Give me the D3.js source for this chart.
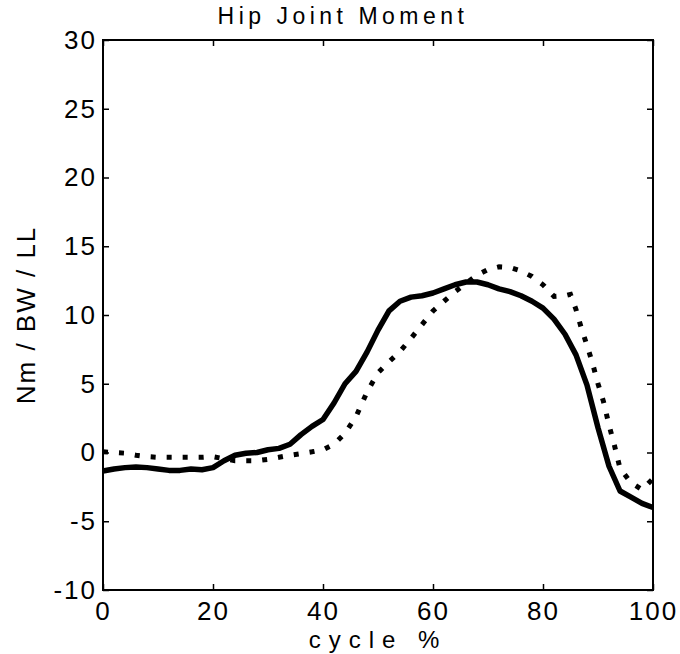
<!DOCTYPE html>
<html><head><meta charset="utf-8">
<script src="https://cdn.jsdelivr.net/npm/d3@7"></script>
<style>body{margin:0;background:#fff}</style>
</head><body>
<svg id="c" width="680" height="654"></svg>
<script>
const title = "Hip Joint Moment";
const xLabel = "cycle %";
const yLabel = "Nm / BW / LL";
const xTicks = [0, 20, 40, 60, 80, 100];
const yTicks = [-10, -5, 0, 5, 10, 15, 20, 25, 30];

const solidX = [0,2,4,6,8,10,12,14,16,18,20,22,24,26,28,30,32,34,36,38,40,42,44,46,48,50,52,54,56,58,60,62,64,66,68,70,72,74,76,78,80,82,84,86,88,90,92,94,96,98,100];
const solidY = [-1.35,-1.2,-1.1,-1.05,-1.1,-1.2,-1.3,-1.3,-1.2,-1.25,-1.1,-0.6,-0.2,-0.05,0.0,0.2,0.3,0.6,1.3,1.9,2.4,3.6,5.0,5.9,7.3,8.9,10.3,11.0,11.3,11.4,11.6,11.9,12.2,12.4,12.4,12.2,11.9,11.7,11.4,11.0,10.5,9.7,8.6,7.1,4.9,1.8,-1.0,-2.8,-3.25,-3.7,-4.0];

const dotX = [0,2,4,6,8,10,12,14,16,18,20,22,24,26,28,30,32,34,36,38,40,42,44,46,48,50,52,54,56,58,60,62,64,66,68,70,72,74,76,78,80,82,84,85,86,87,88,89,90,91,92,93,94,96,98,100];
const dotY = [0.05,0.0,-0.05,-0.2,-0.3,-0.35,-0.35,-0.35,-0.35,-0.35,-0.3,-0.45,-0.6,-0.6,-0.6,-0.5,-0.35,-0.2,-0.08,0.05,0.2,0.6,1.4,2.6,4.4,5.8,6.6,7.35,8.3,9.3,10.3,11.0,11.7,12.3,12.9,13.3,13.5,13.45,13.2,12.8,12.2,11.35,11.4,11.5,10.4,9.0,7.8,6.5,5.0,3.7,2.0,0.5,-1.15,-2.2,-2.7,-1.9];

const svg = d3.select("#c");
const L = 103, R = 653, T = 40, B = 590;
const x = d3.scaleLinear().domain([0,100]).range([L,R]);
const y = d3.scaleLinear().domain([-10,30]).range([B,T]);
const font = "'Liberation Sans', Arial, sans-serif";

const line = d3.line().x(d=>x(d[0])).y(d=>y(d[1]));

svg.append("path").datum(solidX.map((v,i)=>[v,solidY[i]]))
  .attr("d",line).attr("fill","none").attr("stroke","#000")
  .attr("stroke-width",5.5).attr("stroke-linejoin","round");
svg.append("path").datum(dotX.map((v,i)=>[v,dotY[i]]))
  .attr("d",line).attr("fill","none").attr("stroke","#000")
  .attr("stroke-width",5).attr("stroke-dasharray","5 11").attr("stroke-linecap","butt");

// axes with inward ticks
const tl = 6;
const fmt = d => String(d);
const gB = svg.append("g").attr("transform",`translate(0,${B})`)
  .call(d3.axisBottom(x).tickValues(xTicks).tickSize(-tl).tickPadding(12).tickFormat(fmt));
const gT = svg.append("g").attr("transform",`translate(0,${T})`)
  .call(d3.axisTop(x).tickValues(xTicks).tickSize(-tl).tickFormat(""));
const gL = svg.append("g").attr("transform",`translate(${L},0)`)
  .call(d3.axisLeft(y).tickValues(yTicks).tickSize(-tl).tickPadding(6).tickFormat(fmt));
const gR = svg.append("g").attr("transform",`translate(${R},0)`)
  .call(d3.axisRight(y).tickValues(yTicks).tickSize(-tl).tickFormat(""));
[gB,gT,gL,gR].forEach(g=>{
  g.select(".domain").remove();
  g.selectAll(".tick line").attr("stroke","#000").attr("stroke-width",1.5);
  g.selectAll("text").attr("fill","#000").style("font-family",font).style("font-size","26px");
});
gB.selectAll("text").attr("dy","0.71em").style("letter-spacing","2px");
gL.selectAll("text").style("letter-spacing","2px");

svg.append("rect").attr("x",L).attr("y",T).attr("width",R-L).attr("height",B-T)
  .attr("fill","none").attr("stroke","#000").attr("stroke-width",2);

svg.append("text").attr("x",343).attr("y",24).attr("text-anchor","middle")
  .style("font-family",font).style("font-size","23px").style("letter-spacing","4.5px").text(title);
svg.append("text").attr("x",(L+R)/2).attr("y",648).attr("text-anchor","middle")
  .style("font-family",font).style("font-size","24px").style("letter-spacing","8px").text(xLabel);
svg.append("text").attr("transform",`translate(35,${(T+B)/2}) rotate(-90)`).attr("text-anchor","middle")
  .style("font-family",font).style("font-size","26px").style("letter-spacing","2px").text(yLabel);
</script>
</body></html>
